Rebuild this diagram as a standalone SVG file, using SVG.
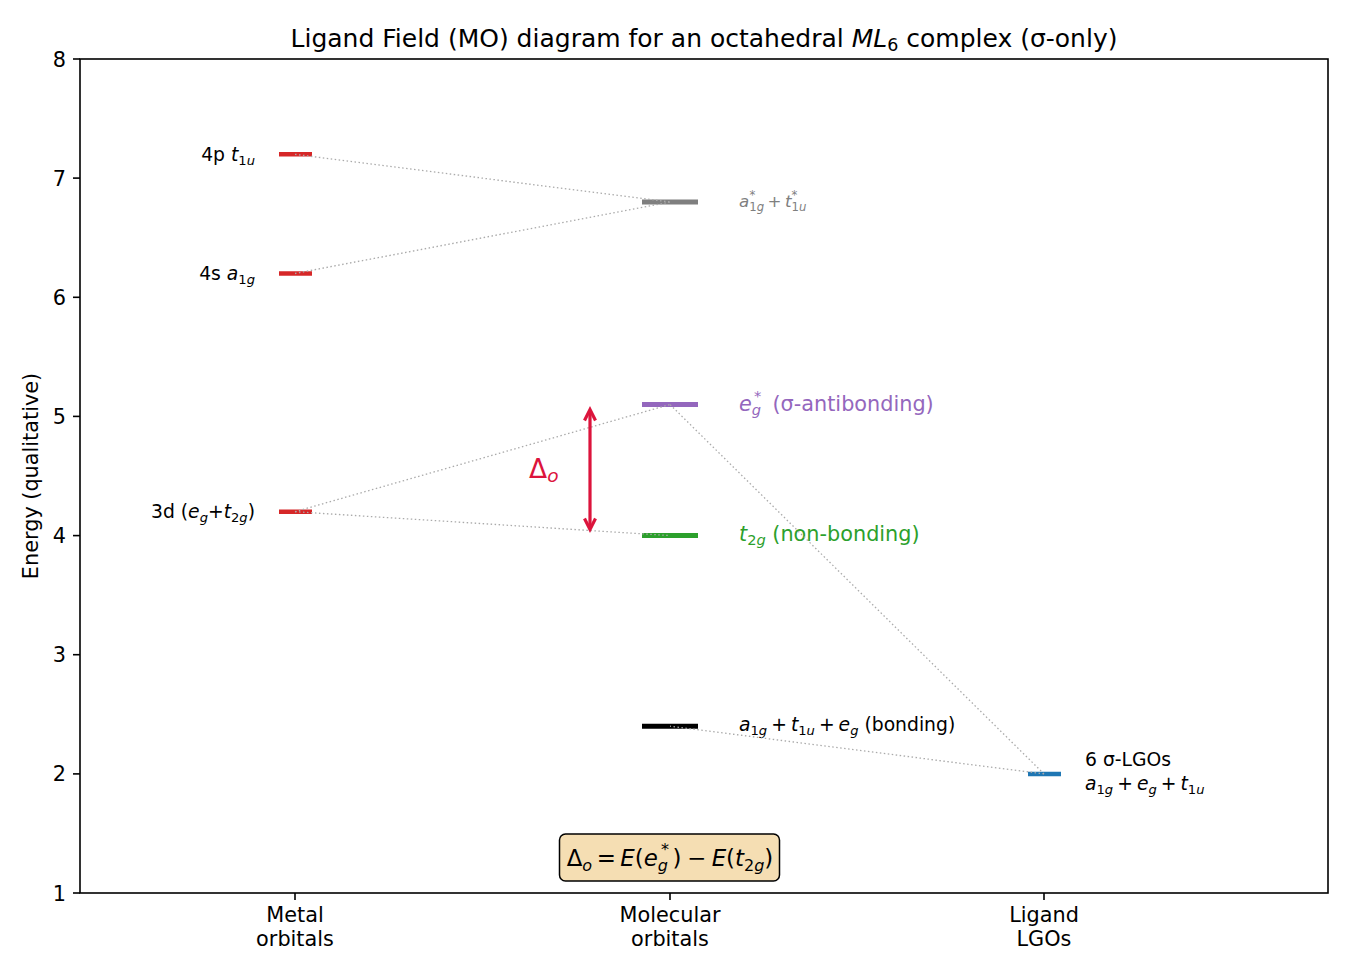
<svg xmlns="http://www.w3.org/2000/svg" width="1350" height="975" viewBox="0 0 1350 975">
<style>
text{font-family:"DejaVu Sans","Liberation Sans",sans-serif;fill:#000}
.t10{font-size:20.8px}
.t9{font-size:18.75px}
.t8{font-size:16.7px}
.t12{font-size:25px}
.i{font-style:italic}
.tick{stroke:#000;stroke-width:1.6}
.lvl{stroke-width:4.5;fill:none}
.mo{stroke-width:5;fill:none}
.conn{stroke:#aaaaaa;stroke-width:1.3;stroke-dasharray:1.5 2.5;fill:none}
</style>
<rect width="1350" height="975" fill="#fff"/>

<!-- axes -->
<g id="axes">
<rect x="80" y="59" width="1248" height="834" fill="none" stroke="#000" stroke-width="1.6"/>
<line class="tick" x1="73" y1="59" x2="80" y2="59"/>
<line class="tick" x1="73" y1="178.1" x2="80" y2="178.1"/>
<line class="tick" x1="73" y1="297.3" x2="80" y2="297.3"/>
<line class="tick" x1="73" y1="416.4" x2="80" y2="416.4"/>
<line class="tick" x1="73" y1="535.6" x2="80" y2="535.6"/>
<line class="tick" x1="73" y1="654.7" x2="80" y2="654.7"/>
<line class="tick" x1="73" y1="773.9" x2="80" y2="773.9"/>
<line class="tick" x1="73" y1="893" x2="80" y2="893"/>
<g class="t10" text-anchor="end">
<text class="t10" x="66" y="66.5">8</text>
<text class="t10" x="66" y="185.6">7</text>
<text class="t10" x="66" y="304.8">6</text>
<text class="t10" x="66" y="423.9">5</text>
<text class="t10" x="66" y="543.1">4</text>
<text class="t10" x="66" y="662.2">3</text>
<text class="t10" x="66" y="781.4">2</text>
<text class="t10" x="66" y="900.5">1</text>
</g>
<line class="tick" x1="295" y1="893" x2="295" y2="900"/>
<line class="tick" x1="670" y1="893" x2="670" y2="900"/>
<line class="tick" x1="1044" y1="893" x2="1044" y2="900"/>
<text class="t10" text-anchor="middle" x="295" y="922">Metal</text>
<text class="t10" text-anchor="middle" x="295" y="946">orbitals</text>
<text class="t10" text-anchor="middle" x="670" y="922">Molecular</text>
<text class="t10" text-anchor="middle" x="670" y="946">orbitals</text>
<text class="t10" text-anchor="middle" x="1044" y="922">Ligand</text>
<text class="t10" text-anchor="middle" x="1044" y="946">LGOs</text>
<text class="t10" text-anchor="middle" transform="translate(38,476) rotate(-90)">Energy (qualitative)</text>
<text class="t12" text-anchor="middle" x="704" y="47">Ligand Field (MO) diagram for an octahedral <tspan class="i">ML</tspan><tspan font-size="17.5" dy="4">6</tspan><tspan dy="-4"> complex (σ-only)</tspan></text>
</g>

<!-- metal orbitals -->
<g id="metal-4p">
<line class="lvl" stroke="#d62728" x1="279" y1="154.3" x2="312" y2="154.3"/>
<text class="t9" text-anchor="end" x="255" y="161">4p <tspan class="i">t</tspan><tspan font-size="13.1" dy="3.5">1</tspan><tspan font-size="13.1" class="i">u</tspan></text>
</g>
<g id="metal-4s">
<line class="lvl" stroke="#d62728" x1="279" y1="273.5" x2="312" y2="273.5"/>
<text class="t9" text-anchor="end" x="255" y="280">4s <tspan class="i">a</tspan><tspan font-size="13.1" dy="3.5">1</tspan><tspan font-size="13.1" class="i">g</tspan></text>
</g>
<g id="metal-3d">
<line class="lvl" stroke="#d62728" x1="279" y1="511.7" x2="312" y2="511.7"/>
<text class="t9" text-anchor="end" x="255" y="518">3d (<tspan class="i">e</tspan><tspan font-size="13.1" class="i" dy="3.5">g</tspan><tspan dy="-3.5">+</tspan><tspan class="i">t</tspan><tspan font-size="13.1" dy="3.5">2</tspan><tspan font-size="13.1" class="i">g</tspan><tspan dy="-3.5">)</tspan></text>
</g>

<!-- molecular orbitals -->
<g id="mo-antibonding-a1g-t1u">
<line class="mo" stroke="#7f7f7f" x1="642" y1="202" x2="698" y2="202"/>
<text class="t8" x="739" y="207" style="fill:#7f7f7f"><tspan class="i">a</tspan><tspan font-size="11.7" dy="3.5">1</tspan><tspan font-size="11.7" class="i">g</tspan><tspan font-size="11.7" dx="-14.5" dy="-12">*</tspan><tspan dx="12" dy="8.5">+</tspan><tspan class="i" dx="3.5">t</tspan><tspan font-size="11.7" dy="3.5">1</tspan><tspan font-size="11.7" class="i">u</tspan><tspan font-size="11.7" dx="-14.8" dy="-12">*</tspan></text>
</g>
<g id="mo-eg-star">
<line class="mo" stroke="#9467bd" x1="642" y1="404.5" x2="698" y2="404.5"/>
<text class="t10" x="739" y="411" style="fill:#9467bd"><tspan class="i">e</tspan><tspan font-size="14.6" class="i" dy="4">g</tspan><tspan font-size="14.6" dx="-7" dy="-14">*</tspan><tspan dx="4.5" dy="10">  (σ-antibonding)</tspan></text>
</g>
<g id="mo-t2g">
<line class="mo" stroke="#2ca02c" x1="642" y1="535.6" x2="698" y2="535.6"/>
<text class="t10" x="739" y="541" style="fill:#2ca02c"><tspan class="i">t</tspan><tspan font-size="14.6" dy="4">2</tspan><tspan font-size="14.6" class="i">g</tspan><tspan dy="-4"> (non-bonding)</tspan></text>
</g>
<g id="mo-bonding">
<line class="mo" stroke="#000000" x1="642" y1="726.2" x2="698" y2="726.2"/>
<text class="t9" x="739" y="731"><tspan class="i">a</tspan><tspan font-size="13.1" dy="3.5">1</tspan><tspan font-size="13.1" class="i">g</tspan><tspan dx="4" dy="-3.5">+</tspan><tspan class="i" dx="4">t</tspan><tspan font-size="13.1" dy="3.5">1</tspan><tspan font-size="13.1" class="i">u</tspan><tspan dx="4" dy="-3.5">+</tspan><tspan class="i" dx="4">e</tspan><tspan font-size="13.1" class="i" dy="3.5">g</tspan><tspan dy="-3.5"> (bonding)</tspan></text>
</g>

<!-- ligand -->
<g id="ligand-lgos">
<line class="lvl" stroke="#1f77b4" x1="1028" y1="773.9" x2="1061" y2="773.9"/>
<text class="t9" x="1085" y="766">6 σ-LGOs</text>
<text class="t9" x="1085" y="790"><tspan class="i">a</tspan><tspan font-size="13.1" dy="3.5">1</tspan><tspan font-size="13.1" class="i">g</tspan><tspan dx="4" dy="-3.5">+</tspan><tspan class="i" dx="4">e</tspan><tspan font-size="13.1" class="i" dy="3.5">g</tspan><tspan dx="4" dy="-3.5">+</tspan><tspan class="i" dx="4">t</tspan><tspan font-size="13.1" dy="3.5">1</tspan><tspan font-size="13.1" class="i">u</tspan></text>
</g>

<!-- connectors -->
<g id="connectors">
<line class="conn" x1="295" y1="154.3" x2="670" y2="202"/>
<line class="conn" x1="295" y1="273.5" x2="670" y2="202"/>
<line class="conn" x1="295" y1="511.7" x2="670" y2="404.5"/>
<line class="conn" x1="295" y1="511.7" x2="670" y2="535.6"/>
<line class="conn" x1="1044" y1="773.9" x2="670" y2="404.5"/>
<line class="conn" x1="1044" y1="773.9" x2="670" y2="726.2"/>
</g>

<!-- splitting arrow -->
<g id="delta-o-arrow">
<line x1="590" y1="412" x2="590" y2="527" stroke="#dc143c" stroke-width="3.2"/>
<path d="M584.5,420.5 L590,409.5 L595.5,420.5" fill="none" stroke="#dc143c" stroke-width="3.2" stroke-linejoin="miter"/>
<path d="M584.5,518.5 L590,529.5 L595.5,518.5" fill="none" stroke="#dc143c" stroke-width="3.2" stroke-linejoin="miter"/>
<text x="529" y="478" style="fill:#dc143c;font-size:26.5px">Δ<tspan font-size="18.5" class="i" dy="4">o</tspan></text>
</g>

<!-- formula box -->
<g id="delta-o-formula">
<rect x="559.5" y="834" width="220" height="47" rx="6" ry="6" fill="#f5deb3" stroke="#000" stroke-width="1.5"/>
<text x="670" y="866" text-anchor="middle" style="font-size:22.9px">Δ<tspan font-size="16" class="i" dy="4.5">o</tspan><tspan dx="4.5" dy="-4.5">=</tspan><tspan class="i" dx="4.5">E</tspan>(<tspan class="i">e</tspan><tspan font-size="16" class="i" dy="4.5">g</tspan><tspan font-size="16" dx="-7" dy="-15.5">*</tspan><tspan dx="3.5" dy="11">)</tspan><tspan dx="5.5">−</tspan><tspan class="i" dx="5.5">E</tspan>(<tspan class="i">t</tspan><tspan font-size="16" dy="4.5">2</tspan><tspan font-size="16" class="i">g</tspan><tspan dy="-4.5">)</tspan></text>
</g>
</svg>
